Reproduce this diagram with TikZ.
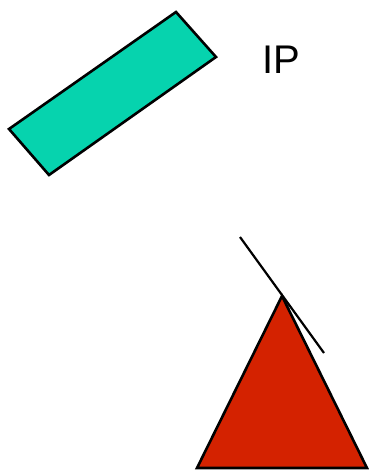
\documentclass[tikz,border=0pt]{standalone}
\usepackage{fontspec}
\setmainfont{Liberation Sans}
\usepackage{tikz}
\definecolor{tuerkis}{HTML}{06D3AE}
\definecolor{rotbraun}{HTML}{D42200}

\begin{document}
\begin{tikzpicture}[x=1pt, y=-1pt,
			kante/.style={draw=black, line width=2.6pt, line join=miter},
			font=\fontsize{40}{48}\selectfont]
			%Bildbereich
			\useasboundingbox (0,0) rectangle (368,472);
			% Plaettchen zeichnen
			\filldraw[kante, fill=tuerkis] (9,129) -- (176,12) -- (216,57) -- (49,175) -- cycle;
			% Beschriftung
			\node (ip) at (281,60) {IP};
			% Kegel zeichnen
			\filldraw[kante, fill=rotbraun] (282,296) -- (367,468) -- (197,468) -- cycle;
			% Tangente an die Spitze
			\coordinate (t1) at (240,237);
			\coordinate (t2) at (324,353);
			\draw[kante, line width=2.2pt] (t1) -- (t2);
		\end{tikzpicture}
\end{document}
